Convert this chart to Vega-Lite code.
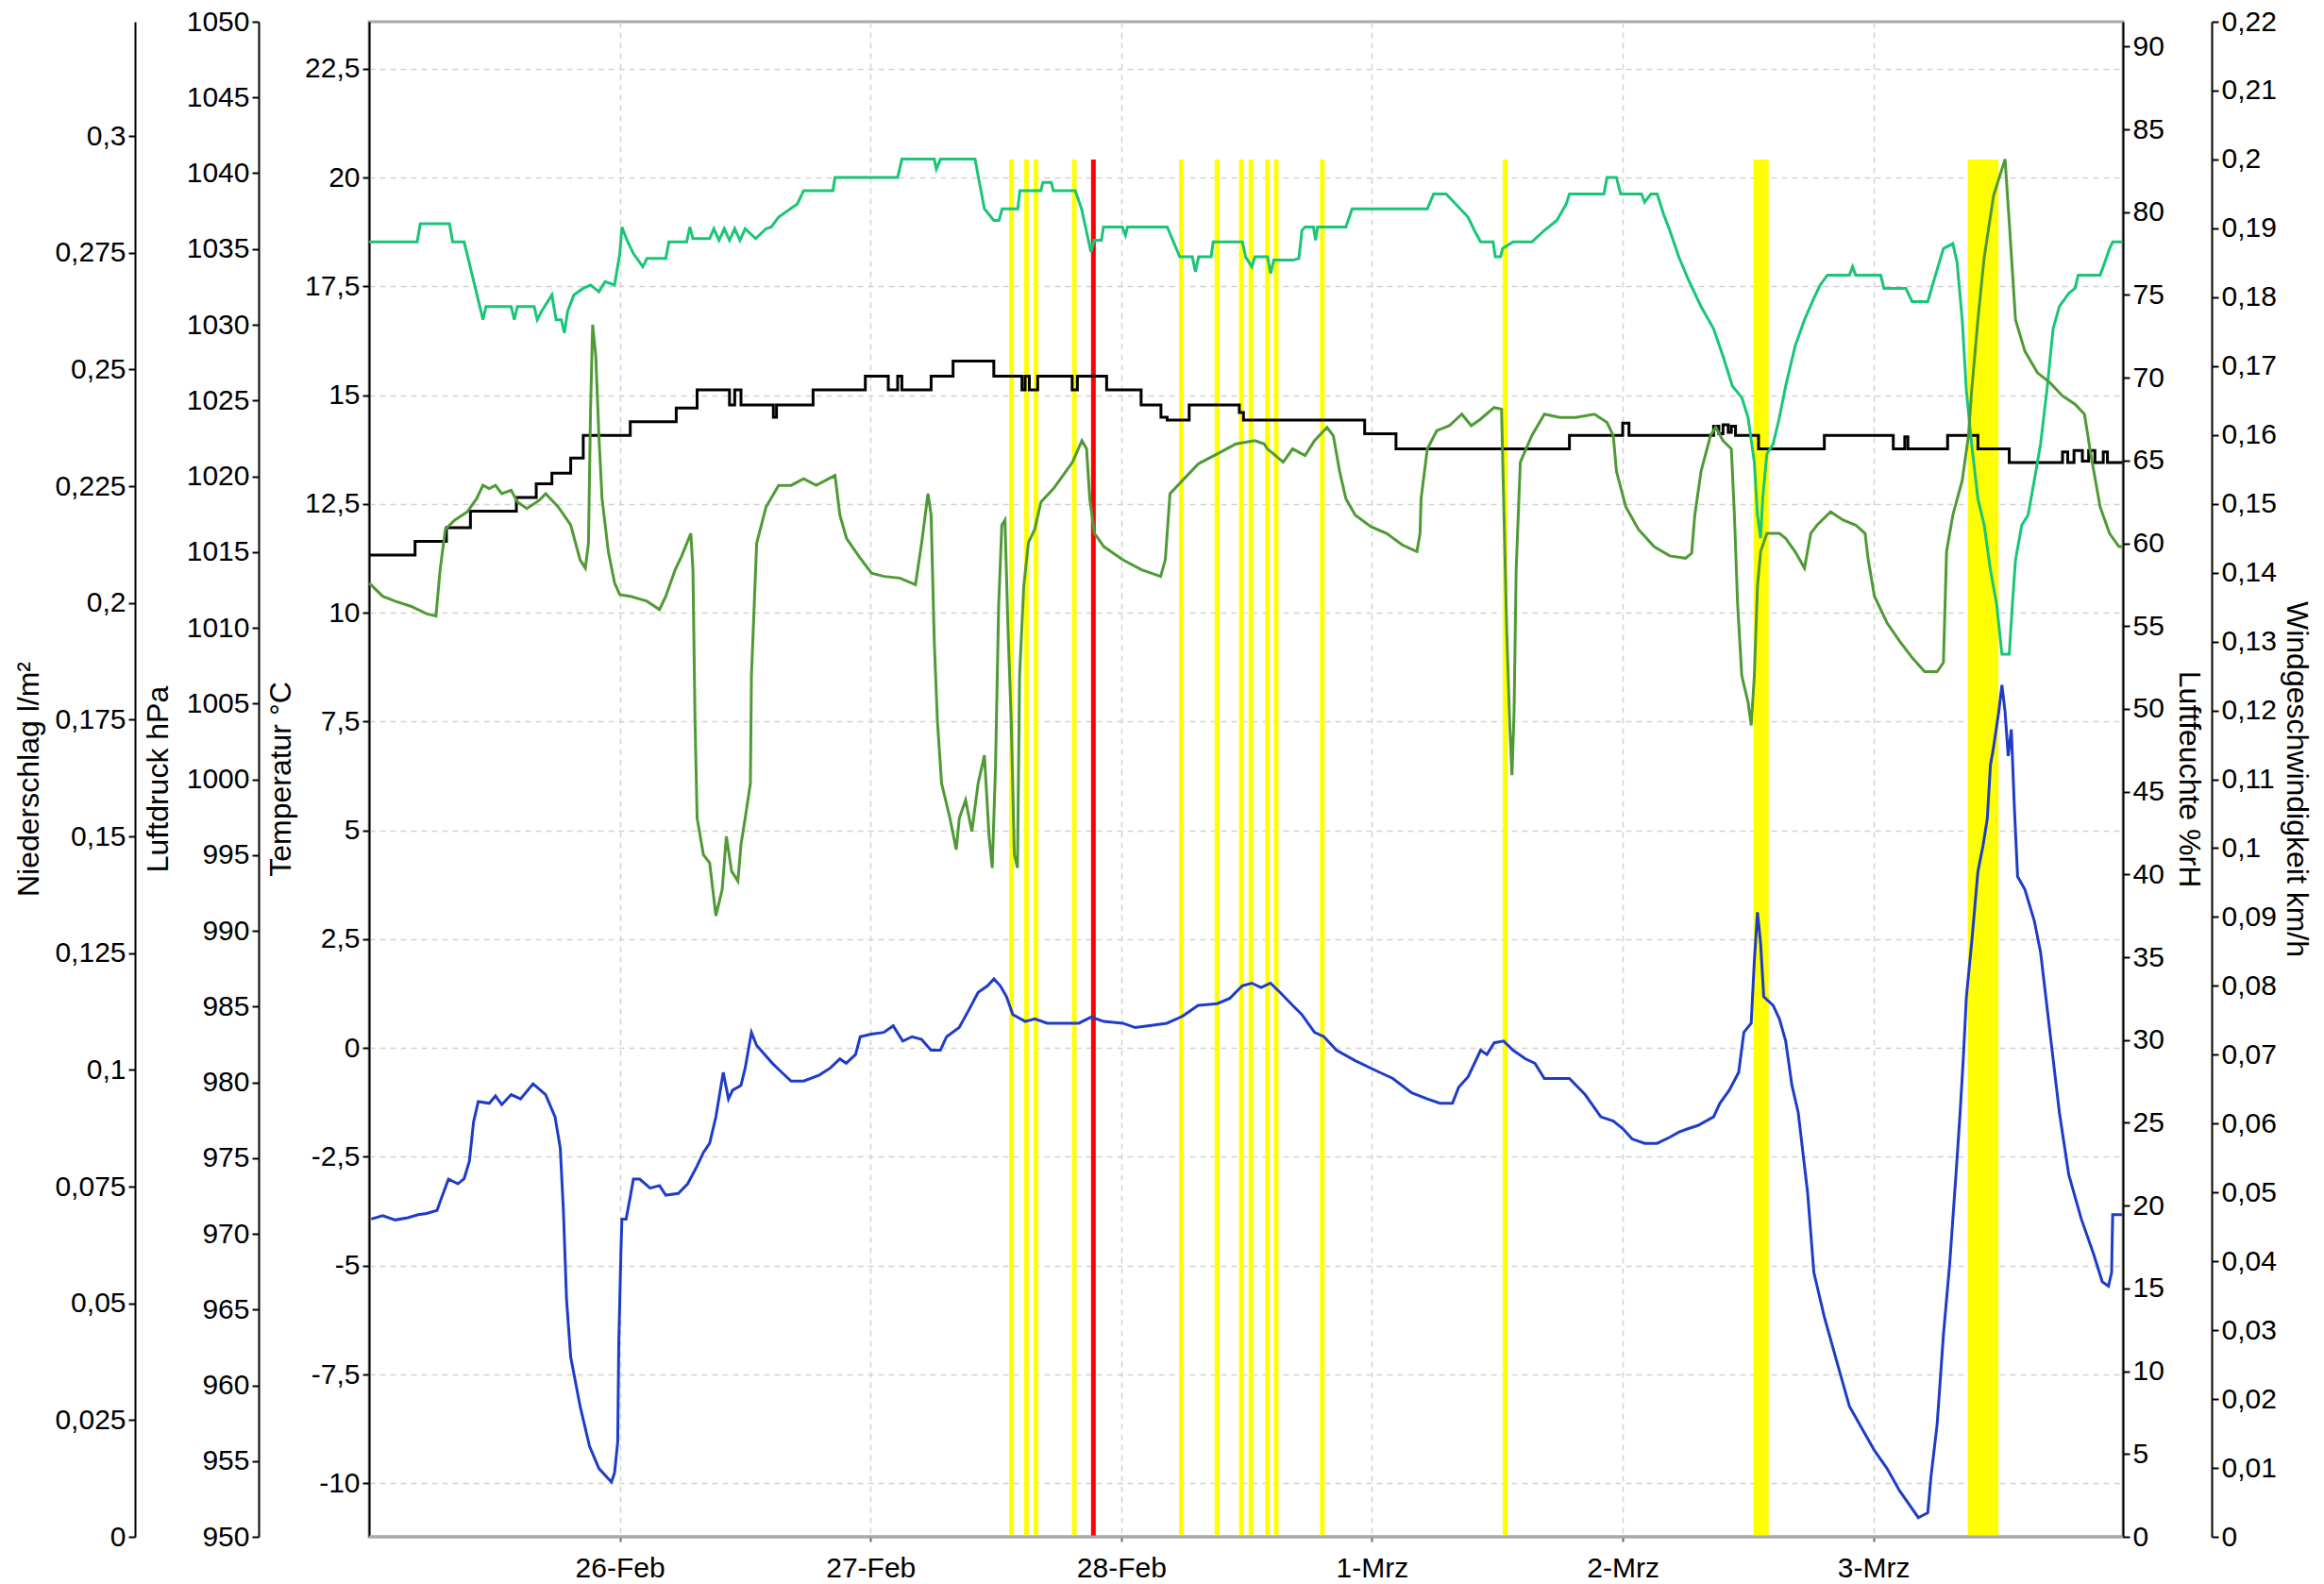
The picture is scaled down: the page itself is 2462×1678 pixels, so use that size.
{
"$schema": "https://vega.github.io/schema/vega-lite/v6.json",
"width": 1858, "height": 1605,
"autosize": {"type": "none"},
"padding": {"left": 391, "top": 23, "right": 213, "bottom": 50},
"background": "white",
"datasets": {
"temp": [
{"t":"2021-02-25T00:12","v":-3.93},{"t":"2021-02-25T01:18","v":-3.85},{"t":"2021-02-25T02:30","v":-3.95},{"t":"2021-02-25T03:42","v":-3.9},{"t":"2021-02-25T04:42","v":-3.83},{"t":"2021-02-25T05:30","v":-3.8},{"t":"2021-02-25T06:30","v":-3.73},{"t":"2021-02-25T07:00","v":-3.4},{"t":"2021-02-25T07:36","v":-3.01},{"t":"2021-02-25T08:30","v":-3.12},{"t":"2021-02-25T09:06","v":-3.0},{"t":"2021-02-25T09:36","v":-2.6},{"t":"2021-02-25T10:00","v":-1.7},{"t":"2021-02-25T10:27","v":-1.23},{"t":"2021-02-25T11:30","v":-1.27},{"t":"2021-02-25T12:06","v":-1.1},{"t":"2021-02-25T12:42","v":-1.3},{"t":"2021-02-25T13:36","v":-1.07},{"t":"2021-02-25T14:30","v":-1.17},{"t":"2021-02-25T15:42","v":-0.82},{"t":"2021-02-25T16:54","v":-1.07},{"t":"2021-02-25T17:48","v":-1.58},{"t":"2021-02-25T18:18","v":-2.3},{"t":"2021-02-25T18:36","v":-3.73},{"t":"2021-02-25T18:54","v":-5.77},{"t":"2021-02-25T19:18","v":-7.1},{"t":"2021-02-25T20:12","v":-8.23},{"t":"2021-02-25T21:06","v":-9.15},{"t":"2021-02-25T22:00","v":-9.66},{"t":"2021-02-25T22:48","v":-9.87},{"t":"2021-02-25T23:12","v":-9.97},{"t":"2021-02-25T23:30","v":-9.76},{"t":"2021-02-25T23:48","v":-9.05},{"t":"2021-02-25T23:54","v":-6.8},
{"t":"2021-02-26T00:06","v":-4.75},{"t":"2021-02-26T00:12","v":-3.93},{"t":"2021-02-26T00:36","v":-3.93},{"t":"2021-02-26T01:00","v":-3.42},{"t":"2021-02-26T01:18","v":-3.01},{"t":"2021-02-26T01:54","v":-3.01},{"t":"2021-02-26T02:54","v":-3.22},{"t":"2021-02-26T03:48","v":-3.16},{"t":"2021-02-26T04:24","v":-3.38},{"t":"2021-02-26T05:36","v":-3.34},{"t":"2021-02-26T06:30","v":-3.12},{"t":"2021-02-26T07:24","v":-2.71},{"t":"2021-02-26T08:00","v":-2.4},{"t":"2021-02-26T08:36","v":-2.19},{"t":"2021-02-26T09:12","v":-1.58},{"t":"2021-02-26T09:54","v":-0.56},{"t":"2021-02-26T10:24","v":-1.17},{"t":"2021-02-26T10:48","v":-0.97},{"t":"2021-02-26T11:36","v":-0.86},{"t":"2021-02-26T12:00","v":-0.46},{"t":"2021-02-26T12:36","v":0.36},{"t":"2021-02-26T13:06","v":0.06},{"t":"2021-02-26T13:30","v":-0.05},{"t":"2021-02-26T14:36","v":-0.35},{"t":"2021-02-26T15:30","v":-0.56},{"t":"2021-02-26T16:24","v":-0.76},{"t":"2021-02-26T17:36","v":-0.76},{"t":"2021-02-26T19:06","v":-0.62},{"t":"2021-02-26T20:09","v":-0.46},{"t":"2021-02-26T21:04","v":-0.25},{"t":"2021-02-26T21:40","v":-0.35},{"t":"2021-02-26T22:34","v":-0.15},{"t":"2021-02-26T23:01","v":0.26},
{"t":"2021-02-27T00:04","v":0.32},{"t":"2021-02-27T01:16","v":0.36},{"t":"2021-02-27T02:10","v":0.51},{"t":"2021-02-27T03:05","v":0.16},{"t":"2021-02-27T03:59","v":0.26},{"t":"2021-02-27T04:53","v":0.2},{"t":"2021-02-27T05:47","v":-0.05},{"t":"2021-02-27T06:41","v":-0.05},{"t":"2021-02-27T07:17","v":0.26},{"t":"2021-02-27T08:29","v":0.47},{"t":"2021-02-27T09:24","v":0.87},{"t":"2021-02-27T10:18","v":1.28},{"t":"2021-02-27T11:12","v":1.43},{"t":"2021-02-27T11:49","v":1.59},{"t":"2021-02-27T12:25","v":1.43},{"t":"2021-02-27T13:01","v":1.18},{"t":"2021-02-27T13:37","v":0.77},{"t":"2021-02-27T14:49","v":0.61},{"t":"2021-02-27T15:43","v":0.67},{"t":"2021-02-27T16:55","v":0.57},{"t":"2021-02-27T18:44","v":0.57},{"t":"2021-02-27T19:56","v":0.57},{"t":"2021-02-27T21:08","v":0.71},{"t":"2021-02-27T22:20","v":0.61},
{"t":"2021-02-28T00:09","v":0.57},{"t":"2021-02-28T01:21","v":0.47},{"t":"2021-02-28T02:33","v":0.51},{"t":"2021-02-28T04:22","v":0.57},{"t":"2021-02-28T05:52","v":0.73},{"t":"2021-02-28T07:22","v":0.98},{"t":"2021-02-28T09:11","v":1.02},{"t":"2021-02-28T10:23","v":1.14},{"t":"2021-02-28T11:35","v":1.43},{"t":"2021-02-28T12:29","v":1.49},{"t":"2021-02-28T13:23","v":1.39},{"t":"2021-02-28T14:17","v":1.49},{"t":"2021-02-28T15:12","v":1.28},{"t":"2021-02-28T16:24","v":0.98},{"t":"2021-02-28T17:17","v":0.77},{"t":"2021-02-28T18:30","v":0.36},{"t":"2021-02-28T19:24","v":0.26},{"t":"2021-02-28T20:36","v":-0.05},{"t":"2021-02-28T22:24","v":-0.29},
{"t":"2021-03-01T00:12","v":-0.5},{"t":"2021-03-01T02:00","v":-0.7},{"t":"2021-03-01T03:48","v":-1.03},{"t":"2021-03-01T05:18","v":-1.17},{"t":"2021-03-01T06:30","v":-1.27},{"t":"2021-03-01T07:42","v":-1.27},{"t":"2021-03-01T08:18","v":-0.9},{"t":"2021-03-01T09:12","v":-0.66},{"t":"2021-03-01T10:24","v":-0.05},{"t":"2021-03-01T11:00","v":-0.15},{"t":"2021-03-01T11:42","v":0.12},{"t":"2021-03-01T12:36","v":0.16},{"t":"2021-03-01T13:30","v":-0.05},{"t":"2021-03-01T14:42","v":-0.25},{"t":"2021-03-01T15:36","v":-0.35},{"t":"2021-03-01T16:30","v":-0.7},{"t":"2021-03-01T17:42","v":-0.7},{"t":"2021-03-01T18:54","v":-0.7},{"t":"2021-03-01T20:24","v":-1.07},{"t":"2021-03-01T21:54","v":-1.58},{"t":"2021-03-01T23:06","v":-1.68},
{"t":"2021-03-02T00:00","v":-1.85},{"t":"2021-03-02T00:54","v":-2.09},{"t":"2021-03-02T02:06","v":-2.19},{"t":"2021-03-02T03:18","v":-2.19},{"t":"2021-03-02T04:30","v":-2.05},{"t":"2021-03-02T05:24","v":-1.93},{"t":"2021-03-02T06:18","v":-1.85},{"t":"2021-03-02T07:12","v":-1.78},{"t":"2021-03-02T08:42","v":-1.58},{"t":"2021-03-02T09:18","v":-1.27},{"t":"2021-03-02T10:12","v":-0.97},{"t":"2021-03-02T11:06","v":-0.56},{"t":"2021-03-02T11:36","v":0.36},{"t":"2021-03-02T12:18","v":0.57},{"t":"2021-03-02T12:36","v":2.0},{"t":"2021-03-02T12:54","v":3.12},{"t":"2021-03-02T13:12","v":2.41},{"t":"2021-03-02T13:30","v":1.18},{"t":"2021-03-02T14:24","v":0.98},{"t":"2021-03-02T15:00","v":0.67},{"t":"2021-03-02T15:36","v":0.16},{"t":"2021-03-02T16:12","v":-0.86},{"t":"2021-03-02T16:48","v":-1.48},{"t":"2021-03-02T17:42","v":-3.32},{"t":"2021-03-02T18:18","v":-5.16},{"t":"2021-03-02T19:18","v":-6.18},{"t":"2021-03-02T20:30","v":-7.21},{"t":"2021-03-02T21:42","v":-8.23},{"t":"2021-03-02T22:54","v":-8.74},
{"t":"2021-03-03T00:06","v":-9.25},{"t":"2021-03-03T01:18","v":-9.66},{"t":"2021-03-03T02:30","v":-10.17},{"t":"2021-03-03T03:24","v":-10.48},{"t":"2021-03-03T04:18","v":-10.79},{"t":"2021-03-03T05:12","v":-10.68},{"t":"2021-03-03T05:30","v":-9.87},{"t":"2021-03-03T06:06","v":-8.64},{"t":"2021-03-03T06:42","v":-6.59},{"t":"2021-03-03T07:18","v":-4.96},{"t":"2021-03-03T07:54","v":-2.91},{"t":"2021-03-03T08:18","v":-1.48},{"t":"2021-03-03T08:36","v":-0.25},{"t":"2021-03-03T08:54","v":1.18},{"t":"2021-03-03T09:24","v":2.41},{"t":"2021-03-03T09:42","v":3.23},{"t":"2021-03-03T10:00","v":4.05},{"t":"2021-03-03T10:30","v":4.66},{"t":"2021-03-03T10:54","v":5.27},{"t":"2021-03-03T11:12","v":6.5},{"t":"2021-03-03T11:30","v":6.91},{"t":"2021-03-03T12:00","v":7.73},{"t":"2021-03-03T12:18","v":8.34},{"t":"2021-03-03T12:36","v":7.73},{"t":"2021-03-03T12:54","v":6.71},{"t":"2021-03-03T13:12","v":7.32},{"t":"2021-03-03T13:30","v":5.48},{"t":"2021-03-03T13:48","v":3.94},{"t":"2021-03-03T14:30","v":3.64},{"t":"2021-03-03T15:24","v":2.92},{"t":"2021-03-03T16:00","v":2.2},{"t":"2021-03-03T16:54","v":0.36},{"t":"2021-03-03T17:48","v":-1.48},{"t":"2021-03-03T18:42","v":-2.91},{"t":"2021-03-03T19:54","v":-3.93},{"t":"2021-03-03T21:06","v":-4.75},{"t":"2021-03-03T21:54","v":-5.37},{"t":"2021-03-03T22:30","v":-5.47},{"t":"2021-03-03T22:48","v":-5.16},{"t":"2021-03-03T22:54","v":-3.83},{"t":"2021-03-03T23:50","v":-3.83}
],
"press": [
{"t":"2021-02-25T00:00","v":1014.8},{"t":"2021-02-25T04:24","v":1015.7},{"t":"2021-02-25T07:24","v":1016.6},{"t":"2021-02-25T09:42","v":1017.7},{"t":"2021-02-25T14:06","v":1018.6},{"t":"2021-02-25T16:00","v":1019.5},{"t":"2021-02-25T17:30","v":1020.2},{"t":"2021-02-25T19:18","v":1021.2},{"t":"2021-02-25T20:30","v":1022.7},
{"t":"2021-02-26T01:00","v":1023.6},{"t":"2021-02-26T05:24","v":1024.5},{"t":"2021-02-26T07:24","v":1025.7},{"t":"2021-02-26T10:30","v":1024.7},{"t":"2021-02-26T11:00","v":1025.7},{"t":"2021-02-26T11:36","v":1024.7},{"t":"2021-02-26T14:42","v":1023.9},{"t":"2021-02-26T15:00","v":1024.7},{"t":"2021-02-26T18:30","v":1025.7},{"t":"2021-02-26T23:30","v":1026.6},
{"t":"2021-02-27T01:42","v":1025.7},{"t":"2021-02-27T02:36","v":1026.6},{"t":"2021-02-27T03:00","v":1025.7},{"t":"2021-02-27T05:48","v":1026.6},{"t":"2021-02-27T07:54","v":1027.6},{"t":"2021-02-27T11:48","v":1026.6},{"t":"2021-02-27T14:30","v":1025.7},{"t":"2021-02-27T14:48","v":1026.6},{"t":"2021-02-27T15:12","v":1025.7},{"t":"2021-02-27T16:00","v":1026.6},{"t":"2021-02-27T19:18","v":1025.7},{"t":"2021-02-27T19:48","v":1026.6},{"t":"2021-02-27T22:36","v":1025.7},
{"t":"2021-02-28T01:54","v":1024.7},{"t":"2021-02-28T03:48","v":1023.9},{"t":"2021-02-28T04:24","v":1023.7},{"t":"2021-02-28T06:30","v":1024.7},{"t":"2021-02-28T11:18","v":1024.2},{"t":"2021-02-28T11:42","v":1023.7},{"t":"2021-02-28T23:18","v":1022.8},
{"t":"2021-03-01T02:18","v":1021.8},{"t":"2021-03-01T18:54","v":1022.7},
{"t":"2021-03-02T00:00","v":1023.5},{"t":"2021-03-02T00:36","v":1022.7},{"t":"2021-03-02T08:42","v":1023.3},{"t":"2021-03-02T09:12","v":1022.8},{"t":"2021-03-02T09:36","v":1023.4},{"t":"2021-03-02T10:06","v":1022.9},{"t":"2021-03-02T10:24","v":1023.3},{"t":"2021-03-02T10:48","v":1022.7},{"t":"2021-03-02T13:00","v":1021.8},{"t":"2021-03-02T19:18","v":1022.7},
{"t":"2021-03-03T01:54","v":1021.8},{"t":"2021-03-03T03:00","v":1022.6},{"t":"2021-03-03T03:18","v":1021.8},{"t":"2021-03-03T07:06","v":1022.7},{"t":"2021-03-03T10:00","v":1021.8},{"t":"2021-03-03T13:00","v":1020.9},{"t":"2021-03-03T18:06","v":1021.6},{"t":"2021-03-03T18:36","v":1020.9},{"t":"2021-03-03T19:12","v":1021.7},{"t":"2021-03-03T20:00","v":1021.0},{"t":"2021-03-03T20:36","v":1021.7},{"t":"2021-03-03T21:12","v":1020.9},{"t":"2021-03-03T22:00","v":1021.6},{"t":"2021-03-03T22:24","v":1020.9},{"t":"2021-03-03T23:50","v":1020.9}
],
"hum": [
{"s":"außen","t":"2021-02-25T00:00","v":78.2},{"s":"außen","t":"2021-02-25T04:36","v":78.2},{"s":"außen","t":"2021-02-25T04:54","v":79.3},{"s":"außen","t":"2021-02-25T07:42","v":79.3},{"s":"außen","t":"2021-02-25T08:00","v":78.2},{"s":"außen","t":"2021-02-25T09:06","v":78.2},{"s":"außen","t":"2021-02-25T10:36","v":74.3},{"s":"außen","t":"2021-02-25T10:54","v":73.5},{"s":"außen","t":"2021-02-25T11:12","v":74.3},{"s":"außen","t":"2021-02-25T13:36","v":74.3},{"s":"außen","t":"2021-02-25T13:54","v":73.5},{"s":"außen","t":"2021-02-25T14:12","v":74.3},{"s":"außen","t":"2021-02-25T15:48","v":74.3},{"s":"außen","t":"2021-02-25T16:06","v":73.5},{"s":"außen","t":"2021-02-25T16:30","v":74.0},{"s":"außen","t":"2021-02-25T17:30","v":75.0},{"s":"außen","t":"2021-02-25T17:54","v":73.5},{"s":"außen","t":"2021-02-25T18:24","v":73.5},{"s":"außen","t":"2021-02-25T18:42","v":72.7},{"s":"außen","t":"2021-02-25T19:00","v":74.0},{"s":"außen","t":"2021-02-25T19:36","v":75.0},{"s":"außen","t":"2021-02-25T20:30","v":75.4},{"s":"außen","t":"2021-02-25T21:12","v":75.6},{"s":"außen","t":"2021-02-25T22:00","v":75.2},{"s":"außen","t":"2021-02-25T22:36","v":75.8},{"s":"außen","t":"2021-02-25T23:30","v":75.6},
{"s":"außen","t":"2021-02-26T00:00","v":77.5},{"s":"außen","t":"2021-02-26T00:12","v":79.1},{"s":"außen","t":"2021-02-26T00:42","v":78.3},{"s":"außen","t":"2021-02-26T01:18","v":77.5},{"s":"außen","t":"2021-02-26T02:12","v":76.7},{"s":"außen","t":"2021-02-26T02:36","v":77.2},{"s":"außen","t":"2021-02-26T04:24","v":77.2},{"s":"außen","t":"2021-02-26T04:42","v":78.2},{"s":"außen","t":"2021-02-26T06:24","v":78.2},{"s":"außen","t":"2021-02-26T06:42","v":79.1},{"s":"außen","t":"2021-02-26T07:00","v":78.4},{"s":"außen","t":"2021-02-26T08:36","v":78.4},{"s":"außen","t":"2021-02-26T09:00","v":79.0},{"s":"außen","t":"2021-02-26T09:30","v":78.3},{"s":"außen","t":"2021-02-26T10:00","v":79.0},{"s":"außen","t":"2021-02-26T10:30","v":78.3},{"s":"außen","t":"2021-02-26T11:00","v":79.0},{"s":"außen","t":"2021-02-26T11:30","v":78.3},{"s":"außen","t":"2021-02-26T12:00","v":79.0},{"s":"außen","t":"2021-02-26T13:00","v":78.4},{"s":"außen","t":"2021-02-26T14:00","v":79.0},{"s":"außen","t":"2021-02-26T14:30","v":79.1},{"s":"außen","t":"2021-02-26T15:12","v":79.7},{"s":"außen","t":"2021-02-26T17:00","v":80.5},{"s":"außen","t":"2021-02-26T17:36","v":81.3},{"s":"außen","t":"2021-02-26T20:24","v":81.3},{"s":"außen","t":"2021-02-26T20:36","v":82.1},
{"s":"außen","t":"2021-02-27T02:36","v":82.1},{"s":"außen","t":"2021-02-27T03:00","v":83.2},{"s":"außen","t":"2021-02-27T06:06","v":83.2},{"s":"außen","t":"2021-02-27T06:18","v":82.6},{"s":"außen","t":"2021-02-27T06:42","v":83.2},{"s":"außen","t":"2021-02-27T10:00","v":83.2},{"s":"außen","t":"2021-02-27T10:54","v":80.2},{"s":"außen","t":"2021-02-27T11:48","v":79.5},{"s":"außen","t":"2021-02-27T12:18","v":79.5},{"s":"außen","t":"2021-02-27T12:36","v":80.2},{"s":"außen","t":"2021-02-27T14:06","v":80.2},{"s":"außen","t":"2021-02-27T14:18","v":81.3},{"s":"außen","t":"2021-02-27T16:18","v":81.3},{"s":"außen","t":"2021-02-27T16:30","v":81.8},{"s":"außen","t":"2021-02-27T17:18","v":81.8},{"s":"außen","t":"2021-02-27T17:30","v":81.3},{"s":"außen","t":"2021-02-27T19:36","v":81.3},{"s":"außen","t":"2021-02-27T20:12","v":80.2},{"s":"außen","t":"2021-02-27T21:06","v":77.6},{"s":"außen","t":"2021-02-27T21:24","v":78.3},{"s":"außen","t":"2021-02-27T22:06","v":78.3},{"s":"außen","t":"2021-02-27T22:18","v":79.1},
{"s":"außen","t":"2021-02-28T00:06","v":79.1},{"s":"außen","t":"2021-02-28T00:24","v":78.6},{"s":"außen","t":"2021-02-28T00:36","v":79.1},{"s":"außen","t":"2021-02-28T04:24","v":79.1},{"s":"außen","t":"2021-02-28T05:36","v":77.3},{"s":"außen","t":"2021-02-28T06:48","v":77.3},{"s":"außen","t":"2021-02-28T07:06","v":76.4},{"s":"außen","t":"2021-02-28T07:24","v":77.3},{"s":"außen","t":"2021-02-28T08:36","v":77.3},{"s":"außen","t":"2021-02-28T08:48","v":78.2},{"s":"außen","t":"2021-02-28T11:36","v":78.2},{"s":"außen","t":"2021-02-28T11:54","v":77.3},{"s":"außen","t":"2021-02-28T12:30","v":76.7},{"s":"außen","t":"2021-02-28T12:48","v":77.3},{"s":"außen","t":"2021-02-28T14:00","v":77.3},{"s":"außen","t":"2021-02-28T14:18","v":76.3},{"s":"außen","t":"2021-02-28T14:36","v":77.1},{"s":"außen","t":"2021-02-28T16:24","v":77.1},{"s":"außen","t":"2021-02-28T17:00","v":77.2},{"s":"außen","t":"2021-02-28T17:18","v":78.9},{"s":"außen","t":"2021-02-28T17:36","v":79.1},{"s":"außen","t":"2021-02-28T18:24","v":79.1},{"s":"außen","t":"2021-02-28T18:36","v":78.3},{"s":"außen","t":"2021-02-28T18:48","v":79.1},{"s":"außen","t":"2021-02-28T21:30","v":79.1},{"s":"außen","t":"2021-02-28T22:06","v":80.2},
{"s":"außen","t":"2021-03-01T05:18","v":80.2},{"s":"außen","t":"2021-03-01T05:54","v":81.1},{"s":"außen","t":"2021-03-01T07:06","v":81.1},{"s":"außen","t":"2021-03-01T08:00","v":80.5},{"s":"außen","t":"2021-03-01T09:12","v":79.7},{"s":"außen","t":"2021-03-01T09:48","v":78.9},{"s":"außen","t":"2021-03-01T10:24","v":78.2},{"s":"außen","t":"2021-03-01T11:36","v":78.2},{"s":"außen","t":"2021-03-01T11:48","v":77.3},{"s":"außen","t":"2021-03-01T12:18","v":77.3},{"s":"außen","t":"2021-03-01T12:30","v":77.8},{"s":"außen","t":"2021-03-01T13:30","v":78.2},{"s":"außen","t":"2021-03-01T15:18","v":78.2},{"s":"außen","t":"2021-03-01T16:30","v":78.9},{"s":"außen","t":"2021-03-01T17:42","v":79.5},{"s":"außen","t":"2021-03-01T18:36","v":80.5},{"s":"außen","t":"2021-03-01T18:54","v":81.1},{"s":"außen","t":"2021-03-01T22:12","v":81.1},{"s":"außen","t":"2021-03-01T22:30","v":82.1},{"s":"außen","t":"2021-03-01T23:24","v":82.1},{"s":"außen","t":"2021-03-01T23:48","v":81.1},
{"s":"außen","t":"2021-03-02T01:48","v":81.1},{"s":"außen","t":"2021-03-02T02:06","v":80.6},{"s":"außen","t":"2021-03-02T02:42","v":81.1},{"s":"außen","t":"2021-03-02T03:18","v":81.1},{"s":"außen","t":"2021-03-02T03:54","v":79.9},{"s":"außen","t":"2021-03-02T04:30","v":78.9},{"s":"außen","t":"2021-03-02T05:24","v":77.25},{"s":"außen","t":"2021-03-02T06:18","v":75.9},{"s":"außen","t":"2021-03-02T07:30","v":74.3},{"s":"außen","t":"2021-03-02T08:42","v":72.95},{"s":"außen","t":"2021-03-02T09:36","v":71.3},{"s":"außen","t":"2021-03-02T10:30","v":69.5},{"s":"außen","t":"2021-03-02T11:24","v":68.8},{"s":"außen","t":"2021-03-02T12:00","v":67.6},{"s":"außen","t":"2021-03-02T12:36","v":64.9},{"s":"außen","t":"2021-03-02T12:54","v":61.7},{"s":"außen","t":"2021-03-02T13:12","v":60.3},{"s":"außen","t":"2021-03-02T13:24","v":62.7},{"s":"außen","t":"2021-03-02T13:48","v":65.4},{"s":"außen","t":"2021-03-02T14:24","v":66.0},{"s":"außen","t":"2021-03-02T15:00","v":67.6},{"s":"außen","t":"2021-03-02T15:36","v":69.5},{"s":"außen","t":"2021-03-02T16:30","v":71.9},{"s":"außen","t":"2021-03-02T17:24","v":73.5},{"s":"außen","t":"2021-03-02T18:18","v":74.8},{"s":"außen","t":"2021-03-02T18:54","v":75.6},{"s":"außen","t":"2021-03-02T19:36","v":76.2},{"s":"außen","t":"2021-03-02T21:42","v":76.2},{"s":"außen","t":"2021-03-02T22:00","v":76.7},{"s":"außen","t":"2021-03-02T22:18","v":76.2},
{"s":"außen","t":"2021-03-03T00:42","v":76.2},{"s":"außen","t":"2021-03-03T01:00","v":75.4},{"s":"außen","t":"2021-03-03T03:06","v":75.4},{"s":"außen","t":"2021-03-03T03:42","v":74.6},{"s":"außen","t":"2021-03-03T05:12","v":74.6},{"s":"außen","t":"2021-03-03T05:48","v":75.9},{"s":"außen","t":"2021-03-03T06:42","v":77.8},{"s":"außen","t":"2021-03-03T07:36","v":78.1},{"s":"außen","t":"2021-03-03T08:00","v":77.0},{"s":"außen","t":"2021-03-03T08:30","v":73.5},{"s":"außen","t":"2021-03-03T08:54","v":69.2},{"s":"außen","t":"2021-03-03T09:24","v":66.0},{"s":"außen","t":"2021-03-03T10:00","v":62.7},{"s":"außen","t":"2021-03-03T10:36","v":61.1},{"s":"außen","t":"2021-03-03T11:12","v":58.4},{"s":"außen","t":"2021-03-03T11:48","v":56.3},{"s":"außen","t":"2021-03-03T12:18","v":53.3},{"s":"außen","t":"2021-03-03T13:00","v":53.3},{"s":"außen","t":"2021-03-03T13:18","v":56.3},{"s":"außen","t":"2021-03-03T13:36","v":59.0},{"s":"außen","t":"2021-03-03T14:12","v":61.1},{"s":"außen","t":"2021-03-03T14:48","v":61.7},{"s":"außen","t":"2021-03-03T15:24","v":63.8},{"s":"außen","t":"2021-03-03T16:00","v":66.0},{"s":"außen","t":"2021-03-03T16:36","v":69.2},{"s":"außen","t":"2021-03-03T17:12","v":72.95},{"s":"außen","t":"2021-03-03T17:48","v":74.3},{"s":"außen","t":"2021-03-03T18:42","v":75.1},{"s":"außen","t":"2021-03-03T19:18","v":75.4},{"s":"außen","t":"2021-03-03T19:36","v":76.2},{"s":"außen","t":"2021-03-03T21:42","v":76.2},{"s":"außen","t":"2021-03-03T22:00","v":76.7},{"s":"außen","t":"2021-03-03T22:18","v":77.25},{"s":"außen","t":"2021-03-03T22:36","v":77.8},{"s":"außen","t":"2021-03-03T22:54","v":78.2},{"s":"außen","t":"2021-03-03T23:50","v":78.2},
{"s":"innen","t":"2021-02-25T00:00","v":57.6},{"s":"innen","t":"2021-02-25T01:18","v":56.8},{"s":"innen","t":"2021-02-25T02:30","v":56.5},{"s":"innen","t":"2021-02-25T04:00","v":56.2},{"s":"innen","t":"2021-02-25T05:30","v":55.75},{"s":"innen","t":"2021-02-25T06:24","v":55.6},{"s":"innen","t":"2021-02-25T06:48","v":58.4},{"s":"innen","t":"2021-02-25T07:18","v":60.85},{"s":"innen","t":"2021-02-25T08:12","v":61.4},{"s":"innen","t":"2021-02-25T09:24","v":61.9},{"s":"innen","t":"2021-02-25T10:18","v":62.7},{"s":"innen","t":"2021-02-25T10:54","v":63.5},{"s":"innen","t":"2021-02-25T11:30","v":63.3},{"s":"innen","t":"2021-02-25T12:06","v":63.5},{"s":"innen","t":"2021-02-25T12:42","v":63.0},{"s":"innen","t":"2021-02-25T13:36","v":63.2},{"s":"innen","t":"2021-02-25T14:12","v":62.5},{"s":"innen","t":"2021-02-25T15:06","v":62.1},{"s":"innen","t":"2021-02-25T16:18","v":62.6},{"s":"innen","t":"2021-02-25T16:54","v":63.0},{"s":"innen","t":"2021-02-25T18:06","v":62.2},{"s":"innen","t":"2021-02-25T19:18","v":61.1},{"s":"innen","t":"2021-02-25T20:12","v":59.0},{"s":"innen","t":"2021-02-25T20:42","v":58.5},{"s":"innen","t":"2021-02-25T21:00","v":60.0},{"s":"innen","t":"2021-02-25T21:12","v":68.1},{"s":"innen","t":"2021-02-25T21:24","v":73.2},{"s":"innen","t":"2021-02-25T21:42","v":71.3},{"s":"innen","t":"2021-02-25T22:00","v":66.5},{"s":"innen","t":"2021-02-25T22:18","v":62.7},{"s":"innen","t":"2021-02-25T22:54","v":59.5},{"s":"innen","t":"2021-02-25T23:30","v":57.6},
{"s":"innen","t":"2021-02-26T00:00","v":56.9},{"s":"innen","t":"2021-02-26T01:00","v":56.8},{"s":"innen","t":"2021-02-26T02:36","v":56.5},{"s":"innen","t":"2021-02-26T03:48","v":56.0},{"s":"innen","t":"2021-02-26T04:24","v":56.8},{"s":"innen","t":"2021-02-26T05:18","v":58.4},{"s":"innen","t":"2021-02-26T05:54","v":59.2},{"s":"innen","t":"2021-02-26T06:48","v":60.6},{"s":"innen","t":"2021-02-26T07:00","v":58.4},{"s":"innen","t":"2021-02-26T07:12","v":49.3},{"s":"innen","t":"2021-02-26T07:24","v":43.4},{"s":"innen","t":"2021-02-26T08:00","v":41.2},{"s":"innen","t":"2021-02-26T08:36","v":40.7},{"s":"innen","t":"2021-02-26T08:54","v":39.1},{"s":"innen","t":"2021-02-26T09:12","v":37.5},{"s":"innen","t":"2021-02-26T09:48","v":39.1},{"s":"innen","t":"2021-02-26T10:12","v":42.3},{"s":"innen","t":"2021-02-26T10:42","v":40.2},{"s":"innen","t":"2021-02-26T11:18","v":39.6},{"s":"innen","t":"2021-02-26T11:36","v":41.8},{"s":"innen","t":"2021-02-26T12:00","v":43.4},{"s":"innen","t":"2021-02-26T12:30","v":45.5},{"s":"innen","t":"2021-02-26T12:36","v":52.0},{"s":"innen","t":"2021-02-26T13:06","v":60.0},{"s":"innen","t":"2021-02-26T14:00","v":62.2},{"s":"innen","t":"2021-02-26T15:12","v":63.5},{"s":"innen","t":"2021-02-26T16:24","v":63.5},{"s":"innen","t":"2021-02-26T17:36","v":63.9},{"s":"innen","t":"2021-02-26T18:48","v":63.5},{"s":"innen","t":"2021-02-26T20:36","v":64.1},{"s":"innen","t":"2021-02-26T21:04","v":61.7},{"s":"innen","t":"2021-02-26T21:42","v":60.3},{"s":"innen","t":"2021-02-26T22:54","v":59.2},
{"s":"innen","t":"2021-02-27T00:06","v":58.2},{"s":"innen","t":"2021-02-27T01:18","v":58.0},{"s":"innen","t":"2021-02-27T02:48","v":57.9},{"s":"innen","t":"2021-02-27T04:18","v":57.5},{"s":"innen","t":"2021-02-27T04:54","v":60.05},{"s":"innen","t":"2021-02-27T05:30","v":63.0},{"s":"innen","t":"2021-02-27T05:48","v":61.7},{"s":"innen","t":"2021-02-27T06:06","v":54.1},{"s":"innen","t":"2021-02-27T06:24","v":49.3},{"s":"innen","t":"2021-02-27T06:48","v":45.5},{"s":"innen","t":"2021-02-27T07:36","v":43.4},{"s":"innen","t":"2021-02-27T08:12","v":41.5},{"s":"innen","t":"2021-02-27T08:30","v":43.4},{"s":"innen","t":"2021-02-27T09:06","v":44.5},{"s":"innen","t":"2021-02-27T09:42","v":42.6},{"s":"innen","t":"2021-02-27T10:18","v":45.5},{"s":"innen","t":"2021-02-27T10:54","v":47.2},{"s":"innen","t":"2021-02-27T11:21","v":42.3},{"s":"innen","t":"2021-02-27T11:39","v":40.4},{"s":"innen","t":"2021-02-27T11:58","v":46.6},{"s":"innen","t":"2021-02-27T12:16","v":56.3},{"s":"innen","t":"2021-02-27T12:34","v":61.1},{"s":"innen","t":"2021-02-27T12:52","v":61.4},{"s":"innen","t":"2021-02-27T13:10","v":54.7},{"s":"innen","t":"2021-02-27T13:28","v":49.3},{"s":"innen","t":"2021-02-27T13:46","v":41.2},{"s":"innen","t":"2021-02-27T14:04","v":40.4},{"s":"innen","t":"2021-02-27T14:16","v":52.0},{"s":"innen","t":"2021-02-27T14:40","v":57.4},{"s":"innen","t":"2021-02-27T15:07","v":60.05},{"s":"innen","t":"2021-02-27T15:43","v":60.85},{"s":"innen","t":"2021-02-27T16:19","v":62.5},{"s":"innen","t":"2021-02-27T17:31","v":63.3},{"s":"innen","t":"2021-02-27T19:20","v":64.9},{"s":"innen","t":"2021-02-27T20:14","v":66.2},{"s":"innen","t":"2021-02-27T20:41","v":65.7},{"s":"innen","t":"2021-02-27T20:59","v":62.7},{"s":"innen","t":"2021-02-27T21:26","v":60.6},{"s":"innen","t":"2021-02-27T22:20","v":59.8},
{"s":"innen","t":"2021-02-28T00:09","v":59.0},{"s":"innen","t":"2021-02-28T01:57","v":58.4},{"s":"innen","t":"2021-02-28T03:46","v":58.0},{"s":"innen","t":"2021-02-28T04:13","v":59.0},{"s":"innen","t":"2021-02-28T04:40","v":63.0},{"s":"innen","t":"2021-02-28T05:52","v":63.8},{"s":"innen","t":"2021-02-28T07:22","v":64.8},{"s":"innen","t":"2021-02-28T09:11","v":65.4},{"s":"innen","t":"2021-02-28T10:59","v":66.0},{"s":"innen","t":"2021-02-28T12:47","v":66.2},{"s":"innen","t":"2021-02-28T13:41","v":66.0},{"s":"innen","t":"2021-02-28T13:59","v":65.7},{"s":"innen","t":"2021-02-28T14:35","v":65.4},{"s":"innen","t":"2021-02-28T15:30","v":64.9},{"s":"innen","t":"2021-02-28T16:24","v":65.7},{"s":"innen","t":"2021-02-28T17:36","v":65.3},{"s":"innen","t":"2021-02-28T18:30","v":66.2},{"s":"innen","t":"2021-02-28T19:42","v":67.0},{"s":"innen","t":"2021-02-28T20:18","v":66.5},{"s":"innen","t":"2021-02-28T20:54","v":64.35},{"s":"innen","t":"2021-02-28T21:30","v":62.7},{"s":"innen","t":"2021-02-28T22:24","v":61.7},{"s":"innen","t":"2021-02-28T23:54","v":61.0},
{"s":"innen","t":"2021-03-01T01:24","v":60.6},{"s":"innen","t":"2021-03-01T02:54","v":59.9},{"s":"innen","t":"2021-03-01T04:18","v":59.5},{"s":"innen","t":"2021-03-01T04:36","v":60.6},{"s":"innen","t":"2021-03-01T04:42","v":62.7},{"s":"innen","t":"2021-03-01T05:18","v":65.7},{"s":"innen","t":"2021-03-01T06:12","v":66.8},{"s":"innen","t":"2021-03-01T07:24","v":67.1},{"s":"innen","t":"2021-03-01T08:36","v":67.8},{"s":"innen","t":"2021-03-01T09:30","v":67.1},{"s":"innen","t":"2021-03-01T10:24","v":67.5},{"s":"innen","t":"2021-03-01T11:42","v":68.2},{"s":"innen","t":"2021-03-01T12:24","v":68.1},{"s":"innen","t":"2021-03-01T12:36","v":62.7},{"s":"innen","t":"2021-03-01T12:54","v":54.7},{"s":"innen","t":"2021-03-01T13:12","v":48.8},{"s":"innen","t":"2021-03-01T13:24","v":46.0},{"s":"innen","t":"2021-03-01T13:36","v":49.8},{"s":"innen","t":"2021-03-01T13:48","v":58.4},{"s":"innen","t":"2021-03-01T14:12","v":64.9},{"s":"innen","t":"2021-03-01T15:18","v":66.5},{"s":"innen","t":"2021-03-01T16:30","v":67.8},{"s":"innen","t":"2021-03-01T18:00","v":67.6},{"s":"innen","t":"2021-03-01T19:30","v":67.6},{"s":"innen","t":"2021-03-01T21:18","v":67.8},{"s":"innen","t":"2021-03-01T22:30","v":67.3},{"s":"innen","t":"2021-03-01T23:06","v":66.5},{"s":"innen","t":"2021-03-01T23:24","v":64.35},
{"s":"innen","t":"2021-03-02T00:18","v":62.2},{"s":"innen","t":"2021-03-02T01:30","v":60.85},{"s":"innen","t":"2021-03-02T03:00","v":59.8},{"s":"innen","t":"2021-03-02T04:30","v":59.24},{"s":"innen","t":"2021-03-02T06:00","v":59.1},{"s":"innen","t":"2021-03-02T06:36","v":59.4},{"s":"innen","t":"2021-03-02T06:54","v":61.7},{"s":"innen","t":"2021-03-02T07:30","v":64.35},{"s":"innen","t":"2021-03-02T08:24","v":66.5},{"s":"innen","t":"2021-03-02T08:54","v":67.0},{"s":"innen","t":"2021-03-02T09:36","v":66.2},{"s":"innen","t":"2021-03-02T10:24","v":65.7},{"s":"innen","t":"2021-03-02T10:42","v":61.6},{"s":"innen","t":"2021-03-02T11:00","v":56.3},{"s":"innen","t":"2021-03-02T11:24","v":52.0},{"s":"innen","t":"2021-03-02T12:00","v":50.4},{"s":"innen","t":"2021-03-02T12:18","v":49.0},{"s":"innen","t":"2021-03-02T12:36","v":52.0},{"s":"innen","t":"2021-03-02T12:54","v":57.4},{"s":"innen","t":"2021-03-02T13:12","v":59.5},{"s":"innen","t":"2021-03-02T13:48","v":60.6},{"s":"innen","t":"2021-03-02T15:00","v":60.6},{"s":"innen","t":"2021-03-02T15:36","v":60.3},{"s":"innen","t":"2021-03-02T16:30","v":59.5},{"s":"innen","t":"2021-03-02T17:24","v":58.5},{"s":"innen","t":"2021-03-02T18:00","v":60.6},{"s":"innen","t":"2021-03-02T18:36","v":61.1},{"s":"innen","t":"2021-03-02T19:54","v":61.9},{"s":"innen","t":"2021-03-02T21:06","v":61.4},{"s":"innen","t":"2021-03-02T22:18","v":61.1},{"s":"innen","t":"2021-03-02T23:12","v":60.6},{"s":"innen","t":"2021-03-02T23:30","v":59.0},
{"s":"innen","t":"2021-03-03T00:06","v":56.8},{"s":"innen","t":"2021-03-03T01:18","v":55.2},{"s":"innen","t":"2021-03-03T02:30","v":54.1},{"s":"innen","t":"2021-03-03T03:42","v":53.1},{"s":"innen","t":"2021-03-03T04:54","v":52.25},{"s":"innen","t":"2021-03-03T06:06","v":52.25},{"s":"innen","t":"2021-03-03T06:42","v":52.8},{"s":"innen","t":"2021-03-03T07:00","v":59.5},{"s":"innen","t":"2021-03-03T07:36","v":61.7},{"s":"innen","t":"2021-03-03T08:30","v":63.8},{"s":"innen","t":"2021-03-03T09:06","v":66.5},{"s":"innen","t":"2021-03-03T09:24","v":69.2},{"s":"innen","t":"2021-03-03T10:00","v":73.5},{"s":"innen","t":"2021-03-03T10:36","v":77.25},{"s":"innen","t":"2021-03-03T11:30","v":81.0},{"s":"innen","t":"2021-03-03T12:18","v":82.6},{"s":"innen","t":"2021-03-03T12:36","v":83.2},{"s":"innen","t":"2021-03-03T13:00","v":79.4},{"s":"innen","t":"2021-03-03T13:36","v":73.5},{"s":"innen","t":"2021-03-03T14:30","v":71.6},{"s":"innen","t":"2021-03-03T15:42","v":70.3},{"s":"innen","t":"2021-03-03T16:54","v":69.7},{"s":"innen","t":"2021-03-03T18:06","v":68.9},{"s":"innen","t":"2021-03-03T19:18","v":68.4},{"s":"innen","t":"2021-03-03T20:12","v":67.8},{"s":"innen","t":"2021-03-03T20:48","v":65.4},{"s":"innen","t":"2021-03-03T21:42","v":62.2},{"s":"innen","t":"2021-03-03T22:36","v":60.6},{"s":"innen","t":"2021-03-03T23:30","v":59.8},{"s":"innen","t":"2021-03-03T23:50","v":59.8}
],
"wind": [
{"t":"2021-02-27T13:30","v":0.2,"typ":"Wind"},{"t":"2021-02-27T14:55","v":0.2,"typ":"Wind"},{"t":"2021-02-27T15:50","v":0.2,"typ":"Wind"},{"t":"2021-02-27T19:30","v":0.2,"typ":"Wind"},
{"t":"2021-02-28T05:45","v":0.2,"typ":"Wind"},{"t":"2021-02-28T09:10","v":0.2,"typ":"Wind"},{"t":"2021-02-28T11:30","v":0.2,"typ":"Wind"},{"t":"2021-02-28T12:25","v":0.2,"typ":"Wind"},{"t":"2021-02-28T14:00","v":0.2,"typ":"Wind"},{"t":"2021-02-28T14:50","v":0.2,"typ":"Wind"},{"t":"2021-02-28T19:15","v":0.2,"typ":"Wind"},
{"t":"2021-03-01T12:45","v":0.2,"typ":"Wind"},
{"t":"2021-03-02T12:45","v":0.2,"typ":"Wind"},{"t":"2021-03-02T13:05","v":0.2,"typ":"Wind"},{"t":"2021-03-02T13:25","v":0.2,"typ":"Wind"},{"t":"2021-03-02T13:45","v":0.2,"typ":"Wind"},
{"t":"2021-03-03T09:15","v":0.2,"typ":"Wind"},{"t":"2021-03-03T09:40","v":0.2,"typ":"Wind"},{"t":"2021-03-03T10:05","v":0.2,"typ":"Wind"},{"t":"2021-03-03T10:30","v":0.2,"typ":"Wind"},{"t":"2021-03-03T10:55","v":0.2,"typ":"Wind"},{"t":"2021-03-03T11:20","v":0.2,"typ":"Wind"},{"t":"2021-03-03T11:45","v":0.2,"typ":"Wind"},
{"t":"2021-02-27T21:20","v":0.2,"typ":"Böe"}
],
"rain": [
{"t":"2021-02-25T00:00","v":0},{"t":"2021-03-03T23:50","v":0}
]
},
"encoding": {
"x": {"field": "t", "type": "temporal", "title": null,
 "scale": {"domain": [{"year":2021,"month":2,"date":25,"hours":0,"minutes":0},{"year":2021,"month":3,"date":3,"hours":23,"minutes":53}]},
 "axis": {"values": [{"year":2021,"month":2,"date":26},{"year":2021,"month":2,"date":27},{"year":2021,"month":2,"date":28},{"year":2021,"month":3,"date":1},{"year":2021,"month":3,"date":2},{"year":2021,"month":3,"date":3}],
  "format": "%-d-%b", "domain": false, "ticks": true, "tickSize": 5, "tickColor": "#666666", "grid": true, "labelPadding": 13, "labelFontSize": 30}}
},
"layer": [
{"data": {"name": "wind"}, "mark": {"type": "rule", "strokeWidth": 5},
 "encoding": {
  "y": {"field": "v", "type": "quantitative", "scale": {"domain": [0, 0.22], "nice": false},
   "axis": {"orient": "right", "offset": 94, "values": [0,0.01,0.02,0.03,0.04,0.05,0.06,0.07,0.08,0.09,0.1,0.11,0.12,0.13,0.14,0.15,0.16,0.17,0.18,0.19,0.2,0.21,0.22], "format": ".2~f", "grid": false, "title": "Windgeschwindigkeit km/h", "titleAngle": 90, "titleX": 89, "titleY": 802, "titleBaseline": "middle", "titleAlign": "center"}},
  "y2": {"datum": 0},
  "color": {"field": "typ", "type": "nominal", "scale": {"domain": ["Wind", "Böe"], "range": ["#ffff00", "#ff0000"]}, "legend": null}
 }},
{"data": {"name": "rain"}, "mark": {"type": "line", "color": "#a8a8a8", "strokeWidth": 3},
 "encoding": {
  "y": {"field": "v", "type": "quantitative", "scale": {"domain": [0, 0.3245], "nice": false},
   "axis": {"orient": "left", "offset": 248, "values": [0,0.025,0.05,0.075,0.1,0.125,0.15,0.175,0.2,0.225,0.25,0.275,0.3], "format": ".3~f", "grid": false, "title": "Niederschlag  l/m²", "titleAngle": 270, "titleX": -113, "titleY": 802, "titleBaseline": "middle", "titleAlign": "center"}}
 }},
{"data": {"name": "press"}, "mark": {"type": "line", "color": "#000000", "strokeWidth": 3, "interpolate": "step-after"},
 "encoding": {
  "y": {"field": "v", "type": "quantitative", "scale": {"domain": [950, 1050], "nice": false, "zero": false},
   "axis": {"orient": "left", "offset": 117, "values": [950,955,960,965,970,975,980,985,990,995,1000,1005,1010,1015,1020,1025,1030,1035,1040,1045,1050], "format": "d", "grid": false, "title": "Luftdruck hPa", "titleAngle": 270, "titleX": -107, "titleY": 802, "titleBaseline": "middle", "titleAlign": "center"}}
 }},
{"data": {"name": "hum"}, "mark": {"type": "line", "strokeWidth": 3},
 "encoding": {
  "y": {"field": "v", "type": "quantitative", "scale": {"domain": [0, 91.5], "nice": false},
   "axis": {"orient": "right", "offset": 0, "values": [0,5,10,15,20,25,30,35,40,45,50,55,60,65,70,75,80,85,90], "format": "d", "grid": false, "title": "Luftfeuchte  %rH", "titleAngle": 90, "titleX": 69, "titleY": 802, "titleBaseline": "middle", "titleAlign": "center"}},
  "color": {"field": "s", "type": "nominal", "scale": {"domain": ["außen", "innen"], "range": ["#19c577", "#4f9a35"]}, "legend": null}
 }},
{"data": {"name": "temp"}, "mark": {"type": "line", "color": "#1e3cc8", "strokeWidth": 3},
 "encoding": {
  "y": {"field": "v", "type": "quantitative", "scale": {"domain": [-11.23, 23.58], "nice": false, "zero": false},
   "axis": {"orient": "left", "offset": 0, "values": [-10,-7.5,-5,-2.5,0,2.5,5,7.5,10,12.5,15,17.5,20,22.5], "format": ".1~f", "grid": true, "title": "Temperatur °C", "titleAngle": 270, "titleX": -94, "titleY": 802, "titleBaseline": "middle", "titleAlign": "center"}}
 }}
],
"resolve": {"scale": {"y": "independent", "color": "independent"}, "axis": {"y": "independent"}},
"config": {
 "locale": {
  "number": {"decimal": ",", "thousands": ".", "grouping": [3], "currency": ["", " €"], "minus": "-"},
  "time": {"dateTime": "%A, %e. %B %Y, %X", "date": "%d.%m.%Y", "time": "%H:%M:%S", "periods": ["AM", "PM"],
   "days": ["Sonntag","Montag","Dienstag","Mittwoch","Donnerstag","Freitag","Samstag"],
   "shortDays": ["So","Mo","Di","Mi","Do","Fr","Sa"],
   "months": ["Januar","Februar","März","April","Mai","Juni","Juli","August","September","Oktober","November","Dezember"],
   "shortMonths": ["Jan","Feb","Mrz","Apr","Mai","Jun","Jul","Aug","Sep","Okt","Nov","Dez"]}
 },
 "font": "Liberation Sans",
 "view": {"stroke": "#a8a8a8", "strokeWidth": 3},
 "axis": {"labelFont": "Liberation Sans", "titleFont": "Liberation Sans", "labelFontSize": 30, "titleFontSize": 32, "titleFontWeight": "normal",
  "labelColor": "#000000", "titleColor": "#000000", "domainColor": "#000000", "tickColor": "#000000", "domainWidth": 2, "tickWidth": 2, "tickSize": 7, "labelPadding": 3,
  "labelOverlap": false, "labelBound": false, "labelFlush": false,
  "gridColor": "#d2d2d2", "gridDash": [6, 5], "gridWidth": 1.5}
}
}
